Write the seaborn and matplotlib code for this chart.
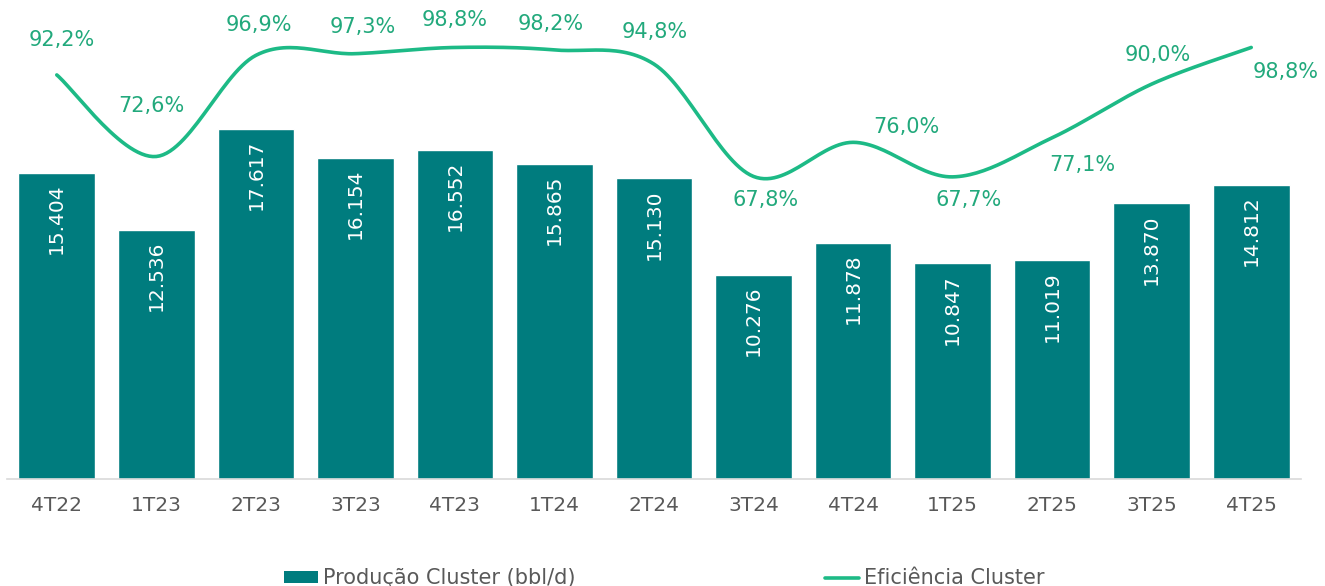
import numpy as np
import pandas as pd
import matplotlib
matplotlib.use("Agg")
import matplotlib.pyplot as plt
import seaborn as sns
from matplotlib.patches import Patch
from matplotlib.lines import Line2D

# data
quarters = ['4T22', '1T23', '2T23', '3T23', '4T23', '1T24', '2T24',
            '3T24', '4T24', '1T25', '2T25', '3T25', '4T25']
production = [15404, 12536, 17617, 16154, 16552, 15865, 15130,
              10276, 11878, 10847, 11019, 13870, 14812]
efficiency = [92.2, 72.6, 96.9, 97.3, 98.8, 98.2, 94.8,
              67.8, 76.0, 67.7, 77.1, 90.0, 98.8]

# label offsets (pixels) for the percentage labels
pct_dx = [5, -5, 3, 7, 0, -4, 1, 12, 53, 16, 30, 6, 34]
pct_dy = [35, 50, 30, 27, 27, 26, 32, -24, 15, -23, -27, 29, -25]

bar_color = '#007C7E'
line_color = '#1DBA86'
text_green = '#22A97C'
gray = '#595959'

df = pd.DataFrame({'Trimestre': quarters, 'Producao': production})

sns.set_style('white')
plt.rcParams['font.family'] = ['DejaVu Sans']

fig = plt.figure(figsize=(13.25, 5.86), dpi=100)
ax = fig.add_axes([7 / 1325, 107 / 586, 1294 / 1325, 469 / 586])

sns.barplot(data=df, x='Trimestre', y='Producao', color=bar_color,
            width=0.77, saturation=1, ax=ax)
ax.set_xlim(-0.5, len(quarters) - 0.5)
ax.set_ylim(0, 23590)
ax.set_xlabel('')
ax.set_ylabel('')
ax.set_yticks([])
for s in ['top', 'right', 'left']:
    ax.spines[s].set_visible(False)
ax.spines['bottom'].set_color('#D9D9D9')
ax.spines['bottom'].set_linewidth(1.2)
ax.tick_params(axis='x', length=0, labelsize=14.5, labelcolor=gray, pad=12)

for i, v in enumerate(production):
    ax.annotate(f'{v:,}'.replace(',', '.'), (i, v), xytext=(0, -11),
                textcoords='offset pixels', rotation=90, ha='center', va='top',
                color='white', fontsize=14.5)

# smoothed efficiency line (Catmull-Rom through the data points)
ax2 = ax.twinx()
x = np.arange(len(efficiency), dtype=float)
y = np.array(efficiency)
px = np.concatenate([[x[0]], x, [x[-1]]])
py = np.concatenate([[y[0]], y, [y[-1]]])
sx, sy = [], []
t = np.linspace(0, 1, 30)
for k in range(1, len(px) - 2):
    p0, p1, p2, p3 = [np.array([px[j], py[j]]) for j in (k - 1, k, k + 1, k + 2)]
    c1 = p1 + (p2 - p0) / 6
    c2 = p2 - (p3 - p1) / 6
    for tt in t:
        b = ((1 - tt) ** 3) * p1 + 3 * ((1 - tt) ** 2) * tt * c1 \
            + 3 * (1 - tt) * tt ** 2 * c2 + tt ** 3 * p2
        sx.append(b[0])
        sy.append(b[1])
sns.lineplot(x=sx, y=sy, sort=False, color=line_color, linewidth=2.6, ax=ax2)
ax2.set_ylim(-4.9, 107.8)
ax2.set_yticks([])
for s in ['top', 'right', 'left', 'bottom']:
    ax2.spines[s].set_visible(False)

for i, v in enumerate(efficiency):
    ax2.annotate(f'{v:.1f}%'.replace('.', ','), (i, v),
                 xytext=(pct_dx[i], pct_dy[i]), textcoords='offset pixels',
                 ha='center', va='center', color=text_green, fontsize=15)

handles = [Patch(facecolor=bar_color, edgecolor='none'),
           Line2D([0], [0], color=line_color, linewidth=2.6)]
fig.legend(handles, ['Produção Cluster (bbl/d)', 'Eficiência Cluster'],
           loc='center', bbox_to_anchor=(0.5015, 0.013), ncol=2, frameon=False,
           fontsize=15, labelcolor=gray, handlelength=1.6, handletextpad=0.25,
           columnspacing=12, handleheight=0.55)

fig.savefig('out.png', dpi=100)
